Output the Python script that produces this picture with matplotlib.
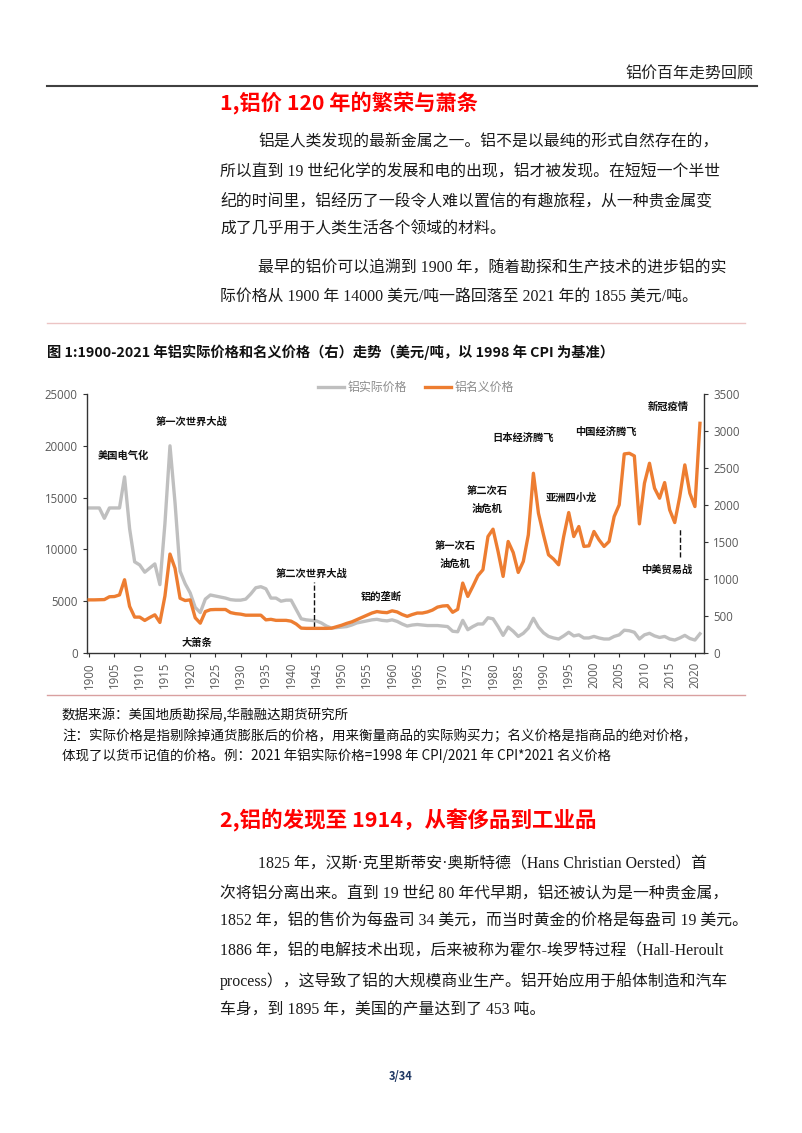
import numpy as np
import matplotlib
matplotlib.use("Agg")
import matplotlib.pyplot as plt
from matplotlib.lines import Line2D

plt.rcParams['font.family'] = ['Noto Sans CJK SC', 'DejaVu Sans']

years = list(range(1900, 2022))

# 铝实际价格 (左轴, 美元/吨, 1998 CPI)
real_price = [
    14000, 14000, 14000, 13000, 14000, 14000, 14000, 17000, 12000, 8800,
    8500, 7800, 8200, 8600, 6600, 12500, 20000, 14500, 7900, 6700,
    5800, 4400, 3900, 5200, 5600, 5500, 5400, 5300, 5150, 5100,
    5100, 5200, 5700, 6300, 6400, 6200, 5300, 5300, 5000, 5100,
    5100, 4200, 3300, 3200, 3150, 3100, 2900, 2600, 2400, 2450,
    2500, 2550, 2700, 2900, 3000, 3100, 3200, 3250, 3150, 3100,
    3200, 3050, 2800, 2600, 2700, 2750, 2700, 2650, 2650, 2650,
    2600, 2550, 2100, 2050, 3150, 2250, 2550, 2800, 2800, 3400,
    3300, 2550, 1700, 2500, 2100, 1600, 1900, 2400, 3350, 2500,
    1950, 1600, 1450, 1350, 1650, 2000, 1650, 1750, 1450, 1450,
    1600, 1450, 1350, 1350, 1600, 1750, 2200, 2150, 2000, 1350,
    1750, 1900, 1650, 1500, 1600, 1350, 1250, 1450, 1700, 1400,
    1250, 1855,
]

# 铝名义价格 (右轴, 美元/吨)
nominal_price = [
    718, 718, 720, 722, 760, 763, 785, 990, 630, 485,
    485, 440, 480, 516, 413, 770, 1337, 1144, 740, 709,
    718, 476, 403, 560, 585, 588, 588, 588, 546, 532,
    525, 511, 511, 511, 511, 448, 455, 441, 441, 441,
    430, 392, 336, 333, 333, 333, 333, 333, 335, 355,
    375, 400, 420, 450, 480, 510, 540, 560, 550, 545,
    570, 555, 520, 495, 520, 540, 540, 555, 580, 620,
    635, 640, 550, 590, 945, 765, 900, 1044, 1125, 1574,
    1673, 1372, 1035, 1507, 1358, 1089, 1237, 1597, 2429, 1889,
    1597, 1327, 1269, 1192, 1574, 1898, 1574, 1709, 1440, 1448,
    1642, 1529, 1440, 1507, 1844, 2002, 2690, 2699, 2663, 1745,
    2294, 2564, 2227, 2092, 2303, 1934, 1763, 2114, 2542, 2159,
    1979, 3104,
]

# 事件标注: (文字, 年份, 左轴位置)
events = [
    ("美国电气化", 1906.7, 19000),
    ("第一次世界大战", 1920.3, 22300),
    ("大萧条", 1921.3, 1000),
    ("第二次世界大战", 1944.0, 7630),
    ("铝的垄断", 1957.8, 5400),
    ("第一次石\n油危机", 1972.4, 9460),
    ("第二次石\n油危机", 1978.8, 14770),
    ("日本经济腾飞", 1985.9, 20750),
    ("亚洲四小龙", 1995.6, 14960),
    ("中国经济腾飞", 2002.3, 21330),
    ("新冠疫情", 2014.8, 23750),
    ("中美贸易战", 2014.4, 8010),
]

W, H = 802, 1133
fig = plt.figure(figsize=(W / 100, H / 100), dpi=100)


def px(x, y):
    return x / W, 1 - y / H


serif = ['Liberation Serif', 'Noto Sans CJK SC']
red = '#FF0000'

# 页眉
fig.text(*px(753, 73), "铝价百年走势回顾", ha='right', va='center', fontsize=11.5, color='#222222')
fig.add_artist(Line2D([47 / W, 757 / W], [1 - 86 / H] * 2, color='#404040', lw=1.5))

fig.text(*px(220, 103), "1,铝价 120 年的繁荣与萧条", ha='left', va='center',
         fontsize=15.3, fontweight='bold', color=red)

body1 = [
    (258, 143, "铝是人类发现的最新金属之一。铝不是以最纯的形式自然存在的，"),
    (220, 172, "所以直到 19 世纪化学的发展和电的出现，铝才被发现。在短短一个半世"),
    (220, 201, "纪的时间里，铝经历了一段令人难以置信的有趣旅程，从一种贵金属变"),
    (220, 230, "成了几乎用于人类生活各个领域的材料。"),
    (258, 268, "最早的铝价可以追溯到 1900 年，随着勘探和生产技术的进步铝的实"),
    (220, 297, "际价格从 1900 年 14000 美元/吨一路回落至 2021 年的 1855 美元/吨。"),
]
for x, y, s in body1:
    fig.text(*px(x, y), s, ha='left', va='center', fontsize=11.4, family=serif, color='#1a1a1a')

fig.add_artist(Line2D([47 / W, 745 / W], [1 - 323 / H] * 2, color='#ecc4c4', lw=1))

fig.text(*px(47, 352), "图 1:1900-2021 年铝实际价格和名义价格（右）走势（美元/吨，以 1998 年 CPI 为基准）",
         ha='left', va='center', fontsize=10.3, fontweight='bold', color='#111111')

# 图表
ax = fig.add_axes([86.7 / W, 1 - 653 / H, (704 - 86.7) / W, (653 - 394) / H])
ax2 = ax.twinx()

ax.plot(years, real_price, color='#BFBFBF', lw=2.4, label='铝实际价格', solid_joinstyle='round')
ax2.plot(years, nominal_price, color='#ED7D31', lw=2.4, label='铝名义价格', solid_joinstyle='round')

ax.set_xlim(1899.5, 2021.8)
ax.set_ylim(0, 25000)
ax2.set_ylim(0, 3500)
ax.set_yticks(range(0, 25001, 5000))
ax2.set_yticks(range(0, 3501, 500))
ax.set_xticks(range(1900, 2021, 5))
ax.set_xticklabels([str(y) for y in range(1900, 2021, 5)], rotation=90)

for a in (ax, ax2):
    a.spines['top'].set_visible(False)
    for s in ('left', 'right', 'bottom'):
        a.spines[s].set_color('#333333')
        a.spines[s].set_linewidth(1)
    a.tick_params(labelsize=8.3, colors='#333333', labelcolor='#595959', length=3,
                  labelfontfamily='Open Sans')
ax.spines['right'].set_visible(False)
ax2.spines['left'].set_visible(False)
ax2.spines['bottom'].set_visible(False)

for s, x, y in events:
    ax.text(x, y, s, ha='center', va='center', fontsize=7.4, fontweight='bold',
            color='#111111', linespacing=2.0)
ax.plot([1944.6, 1944.6], [2500, 6850], ls='--', color='#111111', lw=1)
ax.plot([2017.0, 2017.0], [9270, 12070], ls='--', color='#111111', lw=1)

h1, l1 = ax.get_legend_handles_labels()
h2, l2 = ax2.get_legend_handles_labels()
leg = fig.legend(h1 + h2, l1 + l2, loc='center', bbox_to_anchor=px(416, 388), ncol=2,
                 frameon=False, handlelength=2.2, handletextpad=0.3,
                 columnspacing=1.5, labelcolor='#8c8c8c', prop={'family': serif, 'size': 8.6})

fig.add_artist(Line2D([47 / W, 745 / W], [1 - 695 / H] * 2, color='#d9a0a0', lw=1))

notes = [
    (62, 715, "数据来源：美国地质勘探局,华融融达期货研究所"),
    (62, 736, "注：实际价格是指剔除掉通货膨胀后的价格，用来衡量商品的实际购买力；名义价格是指商品的绝对价格，"),
    (62, 756, "体现了以货币记值的价格。例：2021 年铝实际价格=1998 年 CPI/2021 年 CPI*2021 名义价格"),
]
for x, y, s in notes:
    fig.text(*px(x, y), s, ha='left', va='center', fontsize=9.7, color='#111111')

fig.text(*px(220, 820), "2,铝的发现至 1914，从奢侈品到工业品", ha='left', va='center',
         fontsize=15.5, fontweight='bold', color=red)

body2 = [
    (258, 864, "1825 年，汉斯·克里斯蒂安·奥斯特德（Hans Christian Oersted）首"),
    (220, 893, "次将铝分离出来。直到 19 世纪 80 年代早期，铝还被认为是一种贵金属，"),
    (220, 922, "1852 年，铝的售价为每盎司 34 美元，而当时黄金的价格是每盎司 19 美元。"),
    (220, 951, "1886 年，铝的电解技术出现，后来被称为霍尔-埃罗特过程（Hall-Heroult"),
    (220, 981, "process），这导致了铝的大规模商业生产。铝开始应用于船体制造和汽车"),
    (220, 1010, "车身，到 1895 年，美国的产量达到了 453 吨。"),
]
for x, y, s in body2:
    fig.text(*px(x, y), s, ha='left', va='center', fontsize=11.4, family=serif, color='#1a1a1a')

fig.text(*px(401, 1077), "3/34", ha='center', va='center', fontsize=8, fontweight='bold', color='#1F3864')

fig.savefig('out.png', dpi=100)
